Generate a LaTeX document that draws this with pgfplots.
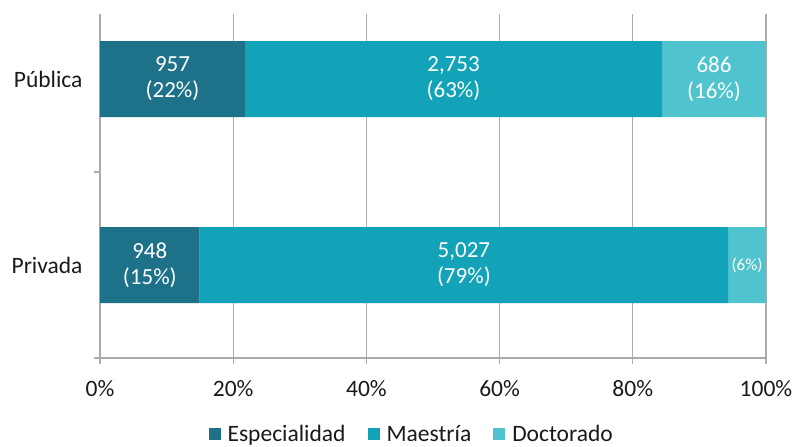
\documentclass[border=0pt]{standalone}
\usepackage{fontspec}
\setmainfont{Carlito}
\usepackage{pgfplots}
\usepackage{pgfplotstable}
\pgfplotsset{compat=1.18}
\definecolor{cEsp}{HTML}{1D7189}
\definecolor{cMae}{HTML}{13A3B8}
\definecolor{cDoc}{HTML}{50C4CE}
\definecolor{cGrid}{HTML}{ABABAB}
\definecolor{cText}{HTML}{1A1A1A}

% percentages of each row total; labels = counts and rounded shares
\pgfplotstableread{
y pct lab
1 21.77 {957\\(22\%)}
0 14.96 {948\\(15\%)}
}\esp
\pgfplotstableread{
y pct lab
1 62.63 {2,753\\(63\%)}
0 79.35 {5,027\\(79\%)}
}\mae
\pgfplotstableread{
y pct lab
1 15.60 {686\\(16\%)}
0 5.69 {{\fontsize{17bp}{19bp}\selectfont(6\%)}}
}\doc

\begin{document}
\begin{tikzpicture}
\begin{axis}[
  at={(0,0)}, anchor=south west,
  scale only axis, width=666bp, height=344bp,
  xbar stacked, bar width=76bp,
  xmin=0, xmax=100, ymin=-0.5, ymax=1.35,
  xtick={0,20,...,100},
  xticklabel={\pgfmathprintnumber{\tick}\%},
  /pgf/number format/assume math mode=true,
  ytick={-0.5,0.5}, yticklabels={},
  extra y ticks={0,1}, extra y tick labels={Privada,Pública},
  extra y tick style={major tick length=0pt, yticklabel style={xshift=-14bp}},
  axis lines*=left,
  axis line style={cGrid, line width=1.2bp},
  xmajorgrids, grid style={cGrid, line width=1.2bp},
  tick style={cGrid, line width=1.2bp},
  major tick length=6bp, tick align=outside,
  tick label style={font=\fontsize{23.5bp}{27bp}\selectfont, text=cText},
  xticklabel style={yshift=-13bp},
  point meta=explicit symbolic,
  nodes near coords={\pgfplotspointmeta},
  every node near coord/.append style={anchor=center,
     text=white, align=center, font=\fontsize{23bp}{26bp}\selectfont},
  legend style={at={(0.468,-0.222)}, anchor=center, draw=none, legend columns=-1,
     font=\fontsize{23.5bp}{27bp}\selectfont, text=cText, inner sep=0pt,
     /tikz/every odd column/.append style={column sep=5bp},
     /tikz/every even column/.append style={column sep=20bp}},
  legend image code/.code={\fill[#1] (0bp,-6bp) rectangle (12bp,6bp);},
]
\addplot[fill=cEsp, draw=none] table[x=pct, y=y, meta=lab]{\esp};
\addplot[fill=cMae, draw=none] table[x=pct, y=y, meta=lab]{\mae};
\addplot[fill=cDoc, draw=none] table[x=pct, y=y, meta=lab]{\doc};
\legend{Especialidad, Maestría, Doctorado}
\end{axis}
\pgfresetboundingbox
\path (-100bp,-89bp) rectangle (696bp,358bp);
\end{tikzpicture}
\end{document}
